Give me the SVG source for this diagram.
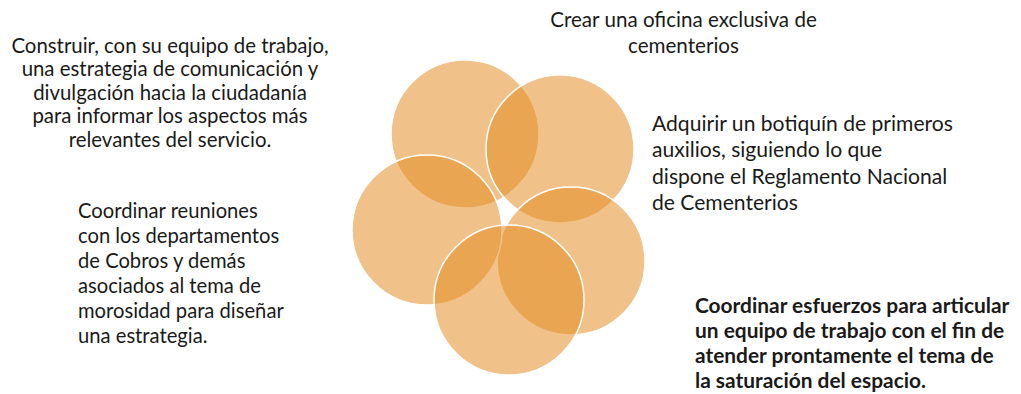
<svg xmlns="http://www.w3.org/2000/svg" width="1021" height="394" viewBox="0 0 1021 394">
<style>
.c{fill:#E38B20;fill-opacity:0.53;stroke:#ffffff;stroke-width:1.5}
.t{font-family:Lato,"Open Sans",sans-serif;fill:#1a1a1a}
.b{font-weight:bold}
.m{text-anchor:middle}
</style>
<rect width="1021" height="394" fill="#ffffff"/>
<g id="circles">
<circle id="c1" class="c" cx="465" cy="134" r="74"/>
<circle id="c2" class="c" cx="560" cy="149" r="74"/>
<circle id="c3" class="c" cx="571" cy="261" r="74"/>
<circle id="c4" class="c" cx="427" cy="230" r="75"/>
<circle id="c5" class="c" cx="509" cy="300" r="75"/>
</g>
<g id="n1" class="t m" font-size="20.4">
<text x="170" y="52.5">Construir, con su equipo de trabajo,</text>
<text x="170" y="76">una estrategia de comunicación y</text>
<text x="170" y="99.5">divulgación hacia la ciudadanía</text>
<text x="170" y="123">para informar los aspectos más</text>
<text x="170" y="146.5">relevantes del servicio.</text>
</g>
<g id="n2" class="t m" font-size="20.6">
<text x="683.5" y="26.5">Crear una oficina exclusiva de</text>
<text x="683.5" y="53">cementerios</text>
</g>
<g id="n3" class="t" font-size="21.1">
<text x="652" y="131">Adquirir un botiquín de primeros</text>
<text x="652" y="157.3">auxilios, siguiendo lo que</text>
<text x="652" y="183.6">dispone el Reglamento Nacional</text>
<text x="652" y="210">de Cementerios</text>
</g>
<g id="n4" class="t" font-size="20.2">
<text x="78" y="218">Coordinar reuniones</text>
<text x="78" y="243">con los departamentos</text>
<text x="78" y="268">de Cobros y demás</text>
<text x="78" y="293">asociados al tema de</text>
<text x="78" y="318">morosidad para diseñar</text>
<text x="78" y="343">una estrategia.</text>
</g>
<g id="n5" class="t b" font-size="20.9">
<text x="695" y="313">Coordinar esfuerzos para articular</text>
<text x="695" y="338">un equipo de trabajo con el fin de</text>
<text x="695" y="363">atender prontamente el tema de</text>
<text x="695" y="387.5">la saturación del espacio.</text>
</g>
</svg>
